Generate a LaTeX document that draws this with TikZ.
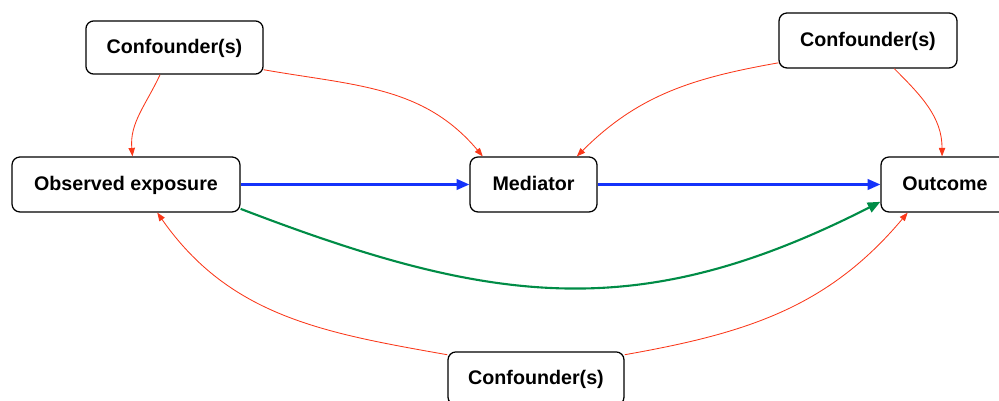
\documentclass[tikz,border=0pt]{standalone}
\usepackage{fontspec}
\setmainfont{Liberation Sans}
\usepackage{xcolor}
\usetikzlibrary{arrows.meta}

\definecolor{confred}{RGB}{250,55,25}
\definecolor{pathblue}{RGB}{20,50,250}
\definecolor{pathgreen}{RGB}{0,140,70}

\begin{document}
\begin{tikzpicture}[
    box/.style={rectangle, draw, rounded corners=0.2cm, line width=0.9pt, fill=white, minimum height=1.375cm, align=center, text height=10pt, text depth=1pt, font=\fontsize{14}{16}\selectfont\bfseries},
    conf/.style={box, minimum width=4.43cm, minimum height=1.33cm},
    redarrow/.style={-{Triangle[length=6pt,width=4.5pt]}, confred, line width=0.6pt},
    bluearrow/.style={-{Triangle[length=9pt,width=7.5pt]}, pathblue, line width=1.5pt},
    greenarrow/.style={-{Triangle[length=9pt,width=7.5pt]}, pathgreen, line width=1.5pt}
]
    \useasboundingbox (0,0) rectangle (24.975,10.025);

    \node[box, minimum width=5.7cm] (expo) at (3.15,5.4125) {Observed exposure};
    \node[box, minimum width=3.175cm] (med) at (13.3375,5.4125) {Mediator};
    \node[box, minimum width=3.2cm] (outc) at (23.625,5.4125) {Outcome};
    \node[conf] (cfA) at (4.3625,8.8375) {Confounder(s)};
    \node[conf, minimum width=4.45cm, minimum height=1.375cm] (cfB) at (21.7,9.0125) {Confounder(s)};
    \node[conf, minimum width=4.4cm] (cfC) at (13.4,0.5625) {Confounder(s)};

    % mediated and direct paths
    \draw[bluearrow] (expo) -- (med);
    \draw[bluearrow] (med) -- (outc);
    \draw[greenarrow] (expo.-12.6) to[out=-21, in=-153, looseness=1.08] (outc.195.3);

    % confounding
    \draw[redarrow] (cfA.-118.7) to[out=-115, in=95] (expo.77.7);
    \draw[redarrow] (cfA.-14.3) to[out=-10, in=130] (med.151.9);
    \draw[redarrow] (cfB.194.8) to[out=190, in=45] (med.33.5);
    \draw[redarrow] (cfB.-47.7) to[out=-45, in=90] (outc.96);
    \draw[redarrow] (cfC.165) to[out=170, in=-55] (expo.-42.6);
    \draw[redarrow] (cfC.15) to[out=10, in=-130] (outc.-143);
\end{tikzpicture}
\end{document}
